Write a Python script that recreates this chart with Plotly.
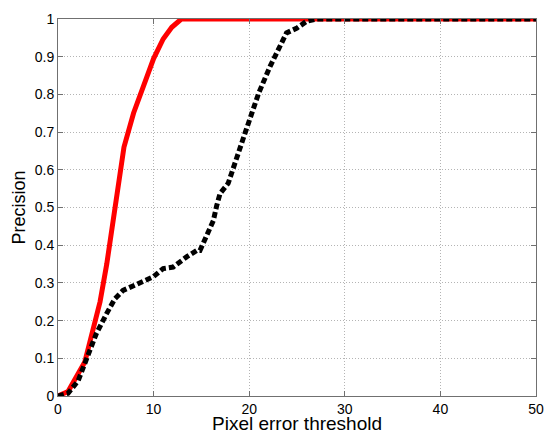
import plotly.graph_objects as go

# Red curve (solid)
red_x = [0, 1.05, 2.8, 4.4, 5.1, 5.8, 6.9, 7.9, 8.9, 10.0, 11.0, 11.9, 12.9, 14, 20, 30, 40, 50]
red_y = [0, 0.012, 0.09, 0.25, 0.35, 0.47, 0.66, 0.75, 0.82, 0.895, 0.947, 0.978, 1.0, 1.0, 1.0, 1.0, 1.0, 1.0]

# Black curve (dashed)
blk_x = [0, 1.05, 2.1, 3.1, 4.0, 5.07, 5.95, 6.8, 7.86, 9.27, 9.96, 11.0, 12.05, 13.45, 14.5, 14.85,
         15.55, 16.25, 16.6, 16.95, 17.8, 18.35, 18.87, 19.6, 20.1, 21.0, 22.2, 22.9, 23.9, 25.0, 26.0,
         27.1, 30, 40, 50]
blk_y = [0, 0.007, 0.04, 0.103, 0.165, 0.218, 0.258, 0.28, 0.293, 0.307, 0.316, 0.338, 0.342, 0.369,
         0.386, 0.386, 0.422, 0.465, 0.505, 0.537, 0.564, 0.608, 0.652, 0.70, 0.737, 0.804, 0.875,
         0.91, 0.963, 0.976, 0.994, 1.0, 1.0, 1.0, 1.0]

x_ticks = [0, 10, 20, 30, 40, 50]
y_ticks = [0, 0.1, 0.2, 0.3, 0.4, 0.5, 0.6, 0.7, 0.8, 0.9, 1]
y_tick_text = ["0", "0.1", "0.2", "0.3", "0.4", "0.5", "0.6", "0.7", "0.8", "0.9", "1"]
x_title = "Pixel error threshold"
y_title = "Precision"

FONT = "Liberation Sans, Arial, sans-serif"

fig = go.Figure()
fig.add_trace(go.Scatter(x=red_x, y=red_y, mode="lines",
                         line=dict(color="#ff0000", width=5),
                         showlegend=False))
fig.add_trace(go.Scatter(x=blk_x, y=blk_y, mode="lines",
                         line=dict(color="black", width=5, dash="6px,3px"),
                         showlegend=False))

axis_common = dict(
    showline=True, linecolor="#707070", linewidth=1, mirror="ticks",
    ticks="inside", ticklen=5, tickcolor="#707070",
    showgrid=True, gridcolor="#b4b4b4", griddash="1px,2px", gridwidth=1,
    zeroline=False, automargin=False,
    tickfont=dict(family=FONT, size=14, color="black"),
)

fig.update_layout(
    width=546, height=434,
    margin=dict(l=58, r=10, t=19, b=38),
    paper_bgcolor="white", plot_bgcolor="white",
    xaxis=dict(range=[0, 50], tickvals=x_ticks, ticklabelstandoff=0, **axis_common),
    yaxis=dict(range=[0, 1], tickvals=y_ticks, ticktext=y_tick_text,
               title=dict(text=y_title, standoff=4,
                          font=dict(family=FONT, size=18, color="black")),
               **axis_common),
    annotations=[dict(text=x_title, xref="paper", yref="paper", x=0.5, y=0,
                      xanchor="center", yanchor="top", yshift=-16, showarrow=False,
                      borderpad=0, font=dict(family=FONT, size=19, color="black"))],
)

fig.write_html("out.html")
